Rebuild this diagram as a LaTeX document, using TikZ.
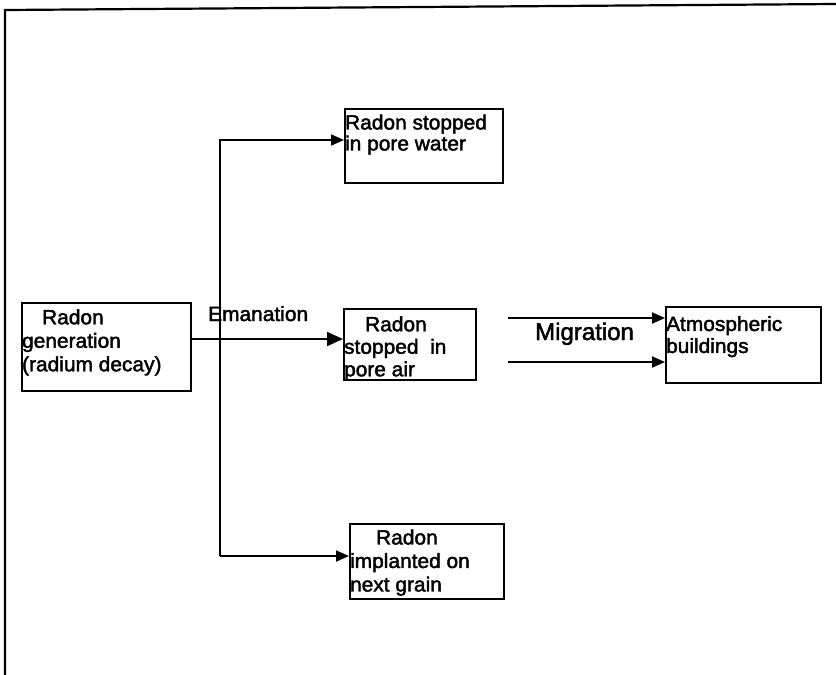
\documentclass[tikz,border=0pt]{standalone}
\usepackage{fontspec}
\setmainfont{Liberation Sans}
\newfontfamily\bxfont[FakeStretch=1.02,FakeBold=2]{Liberation Sans}
\newfontfamily\migfont[FakeBold=2]{Liberation Sans}
\usetikzlibrary{arrows.meta}
\newcommand{\btext}[5]{\parbox[t][#2][t]{#1}{\bxfont\fontsize{20.5}{#3}\selectfont\vspace*{#4}#5}}
\tikzset{
  box/.style={draw, line width=2.2pt, inner sep=0pt, anchor=north west},
  arr/.style={line width=1.8pt, -{Triangle[length=13pt,width=11pt]}},
  bigarr/.style={line width=1.8pt, -{Triangle[length=16pt,width=14pt]}},
  frameline/.style={line width=2.2pt},
  lbl/.style={anchor=base west, inner sep=0pt}
}
\begin{document}
\begin{tikzpicture}[x=1pt,y=-1pt]
\useasboundingbox (0,0) rectangle (836,675);
\draw[frameline] (5,675) -- (5,10) -- (836,4);

\node[box] (gen) at (21,302) {\btext{169pt}{88pt}{23.5pt}{6.3pt}{\hspace*{20pt}Radon\\generation\\(radium decay)}};
\node[box] (water) at (344,108) {\btext{158pt}{74pt}{21pt}{5.5pt}{Radon stopped\\in pore water}};
\node[box] (air) at (343,308) {\btext{132pt}{71pt}{22.5pt}{7.3pt}{\hspace*{21pt}Radon\\stopped\ \ in\\pore air}};
\node[box] (atm) at (665,306) {\btext{155pt}{76pt}{22pt}{9pt}{Atmospheric\\buildings}};
\node[box] (grain) at (349,523) {\btext{154pt}{75pt}{23.5pt}{5.5pt}{\hspace*{26pt}Radon\\implanted on\\next grain}};

\node[lbl, font=\bxfont\fontsize{20.5}{24}\selectfont] (eman) at (208,321) {Emanation};
\node[lbl, font=\migfont\fontsize{24}{28}\selectfont] (mig) at (535,340) {Migration};

\coordinate (jt) at (220,140);
\coordinate (jb) at (220,556);
\coordinate (m1) at (508,318);
\coordinate (m2) at (508,362);

\draw[bigarr] (gen.east |- 0,339) -- (air.west |- 0,339);
\draw[arr] (jb) -- (jt) -- (water.west |- jt);
\draw[arr] (jb) -- (grain.west |- jb);
\draw[arr] (m1) -- (atm.west |- m1);
\draw[arr] (m2) -- (atm.west |- m2);
\end{tikzpicture}
\end{document}
